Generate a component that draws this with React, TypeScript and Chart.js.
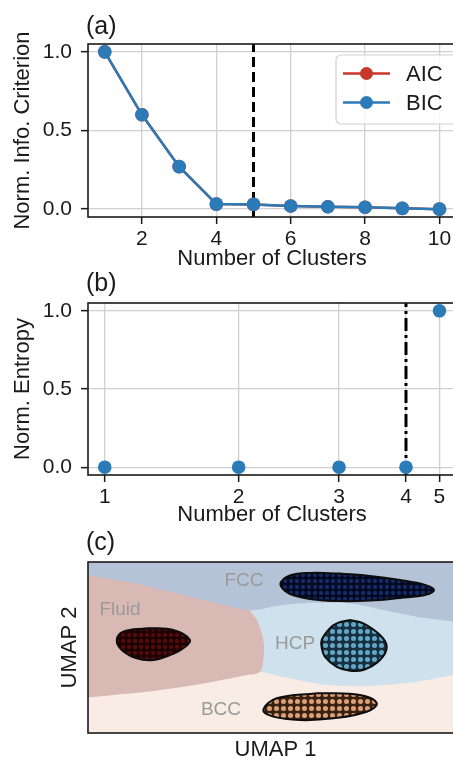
import React, { useEffect, useRef } from "react";
import { Chart, registerables } from "chart.js";

Chart.register(...registerables);

const FONT = "'Liberation Sans', Arial, Helvetica, sans-serif";
const INK = "#1a1a1a";
const GRID = "#d0d0d0";
const AIC_COLOR = "#c8372a";
const BIC_COLOR = "#2b7bb9";

// ---------- (a) information criteria ----------
const clustersA = [1, 2, 3, 4, 5, 6, 7, 8, 9, 10];
const aicValues = [1.0, 0.6, 0.27, 0.032, 0.03, 0.02, 0.015, 0.012, 0.005, 0.0];
const bicValues = [1.0, 0.6, 0.27, 0.032, 0.03, 0.02, 0.015, 0.012, 0.005, 0.0];
const seriesNamesA = ["AIC", "BIC"];
const xTicksA = [2, 4, 6, 8, 10];
const yTicksAB = [0, 0.5, 1.0];
const selectedClustersA = 5;

// ---------- (b) entropy ----------
const clustersB = [1, 2, 3, 4, 5];
const entropyValues = [0, 0, 0, 0, 1];
const clusterAxisPosB = [0, 4, 7, 9, 10];
const selectedClustersB = 4;

// ---------- (c) UMAP map ----------
const fccBoundaryX = [0, 1.8, 3.8, 5.16, 6.48, 7.8, 9.16, 10.48, 11.8, 13.16, 14.6, 15];
const fccBoundaryY = [6.47, 6.14, 5.65, 5.32, 5.03, 5.24, 5.33, 5.31, 5.03, 4.76, 4.56, 4.46];
const hcpLowerX = [6.2, 6.88, 7.81, 9.15, 10.48, 11.81, 13.15, 14.6, 15];
const hcpLowerY = [2.6, 2.52, 2.3, 2.03, 1.92, 1.96, 2.1, 2.37, 2.5];
const fluidX = [0, 6.3, 6.48, 6.75, 6.95, 7.04, 7.01, 6.88, 6.35, 5.01, 3.68, 2.35, 1.01, 0];
const fluidY = [7, 6.2, 5.03, 4.63, 4.08, 3.53, 2.99, 2.51, 2.37, 2.1, 1.87, 1.69, 1.56, 1.45];

const fccClusterX = [10.08, 11.28, 12.48, 13.48, 13.84, 13.48, 12.48, 11.28, 10.08, 8.88, 8.08, 7.76, 7.72, 8.08, 8.88];
const fccClusterY = [6.53, 6.43, 6.26, 6.06, 5.85, 5.65, 5.53, 5.42, 5.4, 5.49, 5.69, 5.94, 6.18, 6.45, 6.55];
const hcpClusterX = [10.48, 11.01, 11.68, 11.95, 11.68, 11.01, 10.48, 9.95, 9.48, 9.35, 9.35, 9.68, 9.95];
const hcpClusterY = [4.63, 4.49, 4.01, 3.53, 2.99, 2.58, 2.55, 2.71, 3.12, 3.48, 3.81, 4.29, 4.49];
const fluidClusterX = [2.35, 3.41, 4.08, 3.81, 3.28, 2.61, 1.95, 1.35, 1.15, 1.41];
const fluidClusterY = [4.29, 4.22, 3.81, 3.47, 3.19, 2.99, 3.06, 3.4, 3.81, 4.15];
const bccClusterX = [9.15, 10.88, 11.55, 11.15, 9.81, 8.48, 7.41, 7.01, 7.55];
const bccClusterY = [1.63, 1.56, 1.22, 0.87, 0.6, 0.53, 0.67, 0.94, 1.42];

const regionNames = ["FCC", "Fluid", "HCP", "BCC"];
const regionLabelX = [6.24, 1.28, 8.28, 5.32];
const regionLabelY = [6.22, 5.03, 3.66, 0.94];

// ---------- helpers ----------
const zip = (xs: number[], ys: number[]) => xs.map((x, i) => ({ x, y: ys[i] }));
const closed = (xs: number[], ys: number[]) => {
  const pts = zip(xs, ys);
  return [...pts, pts[0]];
};

function dotPattern(ctx: CanvasRenderingContext2D, bg: string, dot: string, size: number) {
  const c = document.createElement("canvas");
  c.width = size;
  c.height = size;
  const g = c.getContext("2d")!;
  g.fillStyle = bg;
  g.fillRect(0, 0, size, size);
  g.fillStyle = dot;
  g.beginPath();
  g.arc(size / 2, size / 2, size * 0.36, 0, Math.PI * 2);
  g.fill();
  return ctx.createPattern(c, "repeat") as CanvasPattern;
}

const framePlugin = {
  id: "frame",
  afterDatasetsDraw(chart: any) {
    const { ctx, chartArea: a } = chart;
    ctx.save();
    ctx.strokeStyle = INK;
    ctx.lineWidth = 1.6;
    ctx.strokeRect(a.left, a.top, a.right - a.left, a.bottom - a.top);
    ctx.restore();
  },
};

const tagPlugin = {
  id: "panelTag",
  afterDraw(chart: any, _a: any, opts: any) {
    const { ctx } = chart;
    ctx.save();
    ctx.fillStyle = INK;
    ctx.font = `25px ${FONT}`;
    ctx.textBaseline = "middle";
    ctx.textAlign = "left";
    ctx.fillText(opts.text, opts.x, opts.y);
    ctx.restore();
  },
};

const boxLegendPlugin = {
  id: "boxLegend",
  afterDraw(chart: any, _a: any, opts: any) {
    const { ctx } = chart;
    const items = opts.labels.map((l: string) => chart.data.datasets.find((d: any) => d.label === l));
    ctx.save();
    const { x, y, w, h, r } = opts.box;
    ctx.beginPath();
    ctx.roundRect(x, y, w, h, r);
    ctx.fillStyle = "rgba(255,255,255,0.82)";
    ctx.fill();
    ctx.strokeStyle = "#cfcfcf";
    ctx.lineWidth = 1.2;
    ctx.stroke();
    items.forEach((d: any, i: number) => {
      const ry = opts.rowY[i];
      ctx.strokeStyle = d.borderColor;
      ctx.lineWidth = 2.5;
      ctx.beginPath();
      ctx.moveTo(opts.lineX0, ry);
      ctx.lineTo(opts.lineX1, ry);
      ctx.stroke();
      ctx.fillStyle = d.pointBackgroundColor;
      ctx.beginPath();
      ctx.arc((opts.lineX0 + opts.lineX1) / 2, ry, 6.5, 0, Math.PI * 2);
      ctx.fill();
      ctx.fillStyle = INK;
      ctx.font = `22px ${FONT}`;
      ctx.textBaseline = "middle";
      ctx.textAlign = "left";
      ctx.fillText(d.label, opts.textX, ry + 1);
    });
    ctx.restore();
  },
};

const areaBgPlugin = {
  id: "areaBg",
  beforeDatasetsDraw(chart: any, _a: any, opts: any) {
    const { ctx, chartArea: a } = chart;
    ctx.save();
    ctx.fillStyle = opts.color;
    ctx.fillRect(a.left, a.top, a.right - a.left, a.bottom - a.top);
    ctx.restore();
  },
};

const regionLabelPlugin = {
  id: "regionLabels",
  afterDatasetsDraw(chart: any) {
    const { ctx } = chart;
    const xs = chart.scales.x;
    const ys = chart.scales.y;
    ctx.save();
    ctx.fillStyle = "#9a9a9a";
    ctx.font = `19px ${FONT}`;
    ctx.textAlign = "center";
    ctx.textBaseline = "middle";
    regionNames.forEach((n, i) => {
      ctx.fillText(n, xs.getPixelForValue(regionLabelX[i]), ys.getPixelForValue(regionLabelY[i]));
    });
    ctx.restore();
  },
};

const tickFont = { family: FONT, size: 21 };
const titleFont = { family: FONT, size: 22 };
const gridOpts = { color: GRID, lineWidth: 1.3, tickLength: 7, tickColor: INK, tickWidth: 1.5, drawTicks: true };

function setTicks(values: number[]) {
  return (s: any) => {
    s.ticks = values.map((v) => ({ value: v }));
  };
}

const W = 463;

export default function App() {
  const refA = useRef<HTMLCanvasElement>(null);
  const refB = useRef<HTMLCanvasElement>(null);
  const refC = useRef<HTMLCanvasElement>(null);

  useEffect(() => {
    const charts: Chart[] = [];

    // ---- panel (a) ----
    const yMinA = -0.05;
    const yMaxA = 1.05;
    charts.push(
      new Chart(refA.current!, {
        type: "line",
        data: {
          datasets: [
            {
              label: "BIC",
              data: zip(clustersA, bicValues),
              borderColor: BIC_COLOR,
              backgroundColor: BIC_COLOR,
              pointBackgroundColor: BIC_COLOR,
              borderWidth: 2.5,
              pointRadius: 6.8,
              pointBorderWidth: 0,
              order: 0,
            },
            {
              label: "AIC",
              data: zip(clustersA, aicValues),
              borderColor: AIC_COLOR,
              backgroundColor: AIC_COLOR,
              pointBackgroundColor: AIC_COLOR,
              borderWidth: 2.5,
              pointRadius: 6.8,
              pointBorderWidth: 0,
              order: 1,
            },
            {
              label: "selected",
              data: [
                { x: selectedClustersA, y: yMinA },
                { x: selectedClustersA, y: yMaxA },
              ],
              borderColor: "#000",
              borderWidth: 3,
              borderDash: [10, 5],
              pointRadius: 0,
              order: 2,
            },
          ],
        } as any,
        options: {
          responsive: false,
          animation: false,
          devicePixelRatio: 1,
          events: [],
          layout: { padding: { top: 44, left: 0, right: 0, bottom: 0 } },
          plugins: {
            legend: { display: false },
            tooltip: { enabled: false },
            panelTag: { text: "(a)", x: 86, y: 27 },
            boxLegend: {
              labels: seriesNamesA,
              box: { x: 336, y: 55, w: 140, h: 69, r: 5 },
              rowY: [73.5, 102.5],
              lineX0: 343,
              lineX1: 390,
              textX: 406,
            },
          } as any,
          scales: {
            x: {
              type: "linear",
              min: 0.55,
              max: 10.45,
              afterBuildTicks: setTicks(xTicksA),
              afterFit: (s: any) => {
                s.height = 55;
              },
              ticks: { color: INK, font: tickFont, padding: 3, maxRotation: 0, autoSkip: false, callback: (v: any) => String(v) },
              grid: gridOpts,
              border: { display: false },
              title: { display: true, text: "Number of Clusters", color: INK, font: titleFont, padding: { top: 0, bottom: 0 } },
            },
            y: {
              type: "linear",
              min: yMinA,
              max: yMaxA,
              afterBuildTicks: setTicks(yTicksAB),
              afterFit: (s: any) => {
                s.width = 88;
              },
              ticks: { color: INK, font: tickFont, padding: 9, callback: (v: any) => Number(v).toFixed(1) },
              grid: gridOpts,
              border: { display: false },
              title: { display: true, text: "Norm. Info. Criterion", color: INK, font: titleFont, padding: { top: 10, bottom: 0 } },
            },
          } as any,
        },
        plugins: [framePlugin, tagPlugin, boxLegendPlugin] as any,
      })
    );

    // ---- panel (b) ----
    const yMinB = -0.05;
    const yMaxB = 1.05;
    const selPos = clusterAxisPosB[clustersB.indexOf(selectedClustersB)];
    charts.push(
      new Chart(refB.current!, {
        type: "line",
        data: {
          datasets: [
            {
              label: "Entropy",
              data: clustersB.map((c, i) => ({ x: clusterAxisPosB[i], y: entropyValues[i] })),
              showLine: false,
              borderColor: BIC_COLOR,
              backgroundColor: BIC_COLOR,
              pointBackgroundColor: BIC_COLOR,
              pointRadius: 6.8,
              pointBorderWidth: 0,
              order: 0,
            },
            {
              label: "selected",
              data: [
                { x: selPos, y: yMinB },
                { x: selPos, y: yMaxB },
              ],
              borderColor: "#000",
              borderWidth: 3,
              borderDash: [13, 4, 3, 4],
              pointRadius: 0,
              order: 1,
            },
          ],
        } as any,
        options: {
          responsive: false,
          animation: false,
          devicePixelRatio: 1,
          events: [],
          layout: { padding: { top: 31, left: 0, right: 0, bottom: 0 } },
          plugins: {
            legend: { display: false },
            tooltip: { enabled: false },
            panelTag: { text: "(b)", x: 86, y: 12 },
          } as any,
          scales: {
            x: {
              type: "linear",
              min: -0.5,
              max: 10.5,
              afterBuildTicks: setTicks(clusterAxisPosB),
              afterFit: (s: any) => {
                s.height = 55;
              },
              ticks: {
                color: INK,
                font: tickFont,
                padding: 3,
                maxRotation: 0,
                autoSkip: false,
                callback: (v: any) => String(clustersB[clusterAxisPosB.indexOf(Number(v))]),
              },
              grid: gridOpts,
              border: { display: false },
              title: { display: true, text: "Number of Clusters", color: INK, font: titleFont, padding: { top: 0, bottom: 2 } },
            },
            y: {
              type: "linear",
              min: yMinB,
              max: yMaxB,
              afterBuildTicks: setTicks(yTicksAB),
              afterFit: (s: any) => {
                s.width = 88;
              },
              ticks: { color: INK, font: tickFont, padding: 9, callback: (v: any) => Number(v).toFixed(1) },
              grid: gridOpts,
              border: { display: false },
              title: { display: true, text: "Norm. Entropy", color: INK, font: titleFont, padding: { top: 10, bottom: 0 } },
            },
          } as any,
        },
        plugins: [framePlugin, tagPlugin] as any,
      })
    );

    // ---- panel (c) ----
    const ctxC = refC.current!.getContext("2d")!;
    const clusterBorder = "#0d0d0d";
    const clusterStyle = { fill: "shape", borderColor: clusterBorder, borderWidth: 2, tension: 0.4, pointRadius: 0, order: 0 };
    charts.push(
      new Chart(refC.current!, {
        type: "line",
        data: {
          datasets: [
            {
              label: "FCC cluster",
              data: closed(fccClusterX, fccClusterY),
              backgroundColor: dotPattern(ctxC, "#030820", "#142c66", 6),
              ...clusterStyle,
            },
            {
              label: "HCP cluster",
              data: closed(hcpClusterX, hcpClusterY),
              backgroundColor: dotPattern(ctxC, "#16303f", "#64a6c6", 7),
              ...clusterStyle,
            },
            {
              label: "Fluid cluster",
              data: closed(fluidClusterX, fluidClusterY),
              backgroundColor: dotPattern(ctxC, "#1a0202", "#550b0b", 6),
              ...clusterStyle,
            },
            {
              label: "BCC cluster",
              data: closed(bccClusterX, bccClusterY),
              backgroundColor: dotPattern(ctxC, "#3a2212", "#dc9f77", 7),
              ...clusterStyle,
            },
            {
              label: "FCC region",
              data: zip(fccBoundaryX, fccBoundaryY),
              fill: "end",
              backgroundColor: "#b4c3d8",
              borderWidth: 0,
              borderColor: "rgba(0,0,0,0)",
              tension: 0.3,
              pointRadius: 0,
              order: 1,
            },
            {
              label: "Fluid region",
              data: zip(fluidX, fluidY),
              fill: "shape",
              backgroundColor: "#d8b9b4",
              borderWidth: 0,
              borderColor: "rgba(0,0,0,0)",
              tension: 0.35,
              pointRadius: 0,
              order: 2,
            },
            {
              label: "HCP region",
              data: zip(hcpLowerX, hcpLowerY),
              fill: "end",
              backgroundColor: "#cfe1ed",
              borderWidth: 0,
              borderColor: "rgba(0,0,0,0)",
              tension: 0.4,
              pointRadius: 0,
              order: 3,
            },
          ],
        } as any,
        options: {
          responsive: false,
          animation: false,
          devicePixelRatio: 1,
          events: [],
          layout: { padding: { top: 32, left: 0, right: 0, bottom: 0 } },
          plugins: {
            legend: { display: false },
            tooltip: { enabled: false },
            panelTag: { text: "(c)", x: 86, y: 13 },
            areaBg: { color: "#f8ece4" },
          } as any,
          scales: {
            x: {
              type: "linear",
              min: 0,
              max: 15,
              afterFit: (s: any) => {
                s.height = 37;
              },
              ticks: { display: false },
              grid: { display: false },
              border: { display: false },
              title: { display: true, text: "UMAP 1", color: INK, font: titleFont, padding: { top: 0, bottom: 7 } },
            },
            y: {
              type: "linear",
              min: 0,
              max: 7,
              afterFit: (s: any) => {
                s.width = 88;
              },
              ticks: { display: false },
              grid: { display: false },
              border: { display: false },
              title: { display: true, text: "UMAP 2", color: INK, font: titleFont, padding: { top: 57, bottom: 0 } },
            },
          } as any,
        },
        plugins: [areaBgPlugin, regionLabelPlugin, framePlugin, tagPlugin] as any,
      })
    );

    return () => charts.forEach((c) => c.destroy());
  }, []);

  const canvasStyle = (top: number): React.CSSProperties => ({ position: "absolute", left: 0, top, display: "block" });

  return (
    <div style={{ position: "absolute", left: 0, top: 0, width: 453, height: 759, overflow: "hidden", background: "#fff" }}>
      <canvas ref={refA} width={W} height={272} style={canvasStyle(0)} />
      <canvas ref={refB} width={W} height={258} style={canvasStyle(272)} />
      <canvas ref={refC} width={W} height={240} style={canvasStyle(530)} />
    </div>
  );
}
